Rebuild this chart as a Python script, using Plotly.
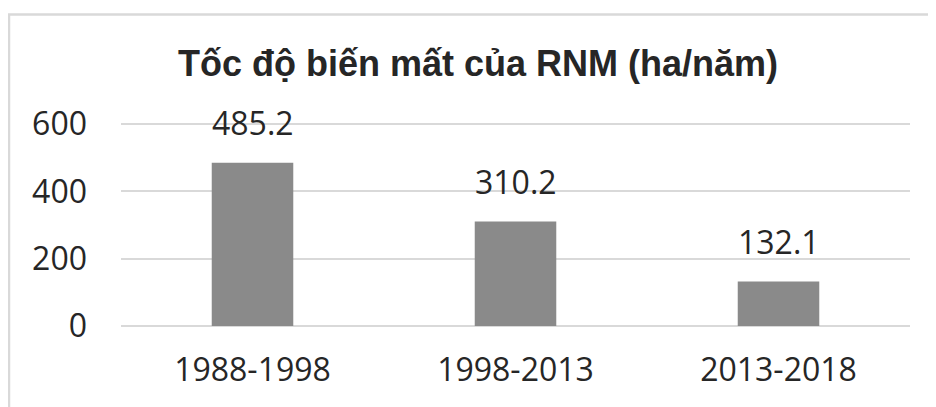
import plotly.graph_objects as go

categories = ["1988-1998", "1998-2013", "2013-2018"]
values = [485.2, 310.2, 132.1]
value_labels = ["485.2", "310.2", "132.1"]
y_ticks = [0, 200, 400, 600]
title_text = "Tốc độ biến mất của RNM (ha/năm)"

W, H = 936, 407
ml, mr, mt, mb = 113, 34, 115, 89

fig = go.Figure()
fig.add_trace(go.Bar(
    x=categories, y=values,
    marker=dict(color="#8a8a8a", line=dict(width=0)),
    width=0.31,
))
for c, v, t in zip(categories, values, value_labels):
    fig.add_annotation(x=c, y=v, text=t, showarrow=False, yanchor="bottom",
                       yshift=17, font=dict(family="Open Sans", size=32, color="#262626"))

pw = W - ml - mr
ph = H - mt - mb
fig.add_shape(type="rect", xref="paper", yref="paper",
              x0=(1 - ml) / pw, x1=(960 - ml) / pw,
              y0=(H - 440 - mb) / ph, y1=(H - 6.5 - mb) / ph,
              line=dict(color="#d9d9d9", width=2.5), fillcolor="rgba(0,0,0,0)", layer="below")

fig.update_layout(
    width=W, height=H,
    margin=dict(l=ml, r=mr, t=mt, b=mb),
    paper_bgcolor="white", plot_bgcolor="white",
    showlegend=False,
    title=dict(text="<b>" + title_text + "</b>", x=470 / W, xanchor="center",
               y=1 - 55 / H, yanchor="middle", xref="container", yref="container",
               font=dict(family="Liberation Sans", size=36, color="#262626")),
    xaxis=dict(showgrid=False, showline=False, ticks="", ticklabelstandoff=22,
               tickfont=dict(family="Open Sans", size=32, color="#262626")),
    yaxis=dict(range=[0, 603], tickvals=y_ticks, showgrid=True, gridcolor="#d9d9d9",
               gridwidth=2, zeroline=True, zerolinecolor="#d9d9d9", zerolinewidth=2,
               showline=False, ticks="", ticklabelstandoff=33,
               tickfont=dict(family="Open Sans", size=32, color="#262626")),
)
fig.write_html("out.html")
